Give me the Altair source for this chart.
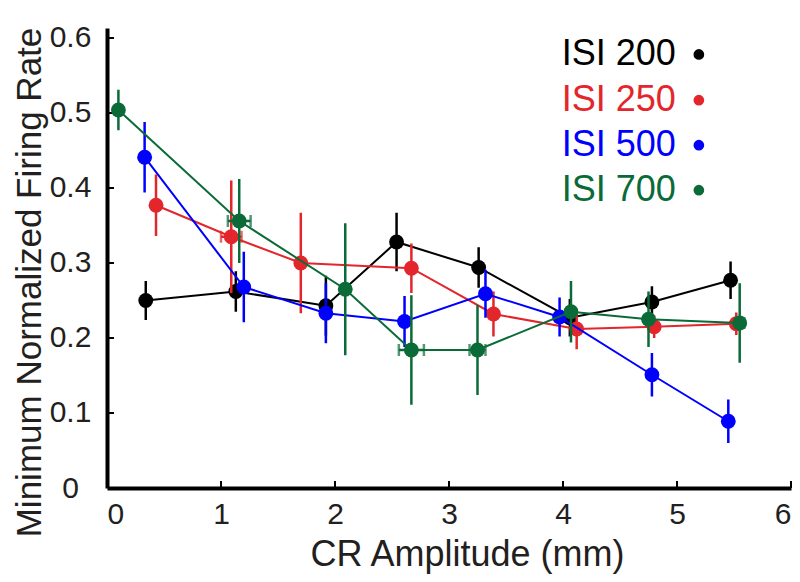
import altair as alt
import pandas as pd

series = ["ISI 200", "ISI 250", "ISI 500", "ISI 700"]
colors = ["#000000", "#e3262b", "#0000ff", "#0a6b38"]

x200 = [0.34, 1.13, 1.92, 2.54, 3.26, 4.06, 4.78, 5.47]
y200 = [0.250, 0.262, 0.243, 0.328, 0.294, 0.227, 0.248, 0.277]
e200 = [0.026, 0.027, 0.040, 0.039, 0.027, 0.025, 0.021, 0.025]
h200 = [0, 0, 0, 0, 0, 0, 0, 0]

x250 = [0.43, 1.09, 1.70, 2.67, 3.39, 4.12, 4.80, 5.52]
y250 = [0.377, 0.335, 0.300, 0.293, 0.232, 0.212, 0.215, 0.219]
e250 = [0.041, 0.075, 0.067, 0.033, 0.030, 0.027, 0.015, 0.015]
h250 = [0, 0.09, 0, 0, 0, 0, 0, 0.03]

x500 = [0.33, 1.20, 1.92, 2.61, 3.32, 3.97, 4.78, 5.45]
y500 = [0.441, 0.268, 0.233, 0.222, 0.259, 0.228, 0.151, 0.089]
e500 = [0.047, 0.047, 0.040, 0.034, 0.032, 0.026, 0.029, 0.029]
h500 = [0, 0, 0, 0, 0, 0, 0, 0]

x700 = [0.10, 1.16, 2.09, 2.67, 3.25, 4.07, 4.75, 5.55]
y700 = [0.504, 0.356, 0.265, 0.184, 0.184, 0.235, 0.225, 0.220]
e700 = [0.027, 0.056, 0.088, 0.073, 0.060, 0.041, 0.037, 0.053]
h700 = [0, 0.10, 0, 0.11, 0.07, 0, 0, 0.04]

xticks = [0, 1, 2, 3, 4, 5, 6]
yticks = [0, 0.1, 0.2, 0.3, 0.4, 0.5, 0.6]

legend_x = [4.99, 4.99, 4.99, 4.99]
legend_y = [0.578, 0.517, 0.457, 0.397]

W, H = 684, 460
xs = alt.Scale(domain=[0, 6.0], nice=False, zero=False)
ys = alt.Scale(domain=[0, 0.6133], nice=False, zero=False)

FONT = "Liberation Sans"
TXT = "#231f20"

xaxis = alt.Axis(values=xticks, format="d", ticks=False, domain=True, domainWidth=4,
                 domainColor="black",
                 labelFontSize=30, labelFont=FONT, labelColor=TXT, labelPadding=11,
                 title="CR Amplitude (mm)", titleFontSize=36, titleFont=FONT,
                 titleFontWeight="normal", titleColor=TXT,
                 titleBaseline="alphabetic", titleX=360, titleY=77, grid=False)
yaxis = alt.Axis(values=yticks, ticks=False, domain=True, domainWidth=4, domainColor="black",
                 labelFontSize=30, labelFont=FONT, labelColor=TXT, labelPadding=37,
                 labelAlign="center",
                 labelExpr="datum.value == 0 ? '0' : format(datum.value, '.1f')",
                 title="Minimum Normalized Firing Rate", titleFontSize=35, titleFont=FONT,
                 titleFontWeight="normal", titleColor=TXT, titleBaseline="alphabetic",
                 titleX=-67, titleY=254, grid=False)

data = {
    "ISI 200": (x200, y200, e200, h200),
    "ISI 250": (x250, y250, e250, h250),
    "ISI 500": (x500, y500, e500, h500),
    "ISI 700": (x700, y700, e700, h700),
}

layers = []
base_df = pd.DataFrame({"x": [0.0], "y": [0.0]})
axes_layer = alt.Chart(base_df).mark_point(opacity=0).encode(
    x=alt.X("x:Q", scale=xs, axis=xaxis),
    y=alt.Y("y:Q", scale=ys, axis=yaxis),
)
layers.append(axes_layer)

# inward ticks
ytick_df = pd.DataFrame({"y": yticks[1:]})
layers.append(alt.Chart(ytick_df).mark_rule(color="black", strokeWidth=2).encode(
    y=alt.Y("y:Q", scale=ys), x=alt.value(0), x2=alt.value(7)))
xtick_df = pd.DataFrame({"x": xticks[1:]})
layers.append(alt.Chart(xtick_df).mark_rule(color="black", strokeWidth=2).encode(
    x=alt.X("x:Q", scale=xs), y=alt.value(H), y2=alt.value(H - 7)))

for name, col in zip(series, colors):
    xv, yv, ev, hv = data[name]
    df = pd.DataFrame({"x": xv, "y": yv, "e": ev, "h": hv})
    df["ylo"] = df["y"] - df["e"]
    df["yhi"] = df["y"] + df["e"]
    df["xlo"] = df["x"] - df["h"]
    df["xhi"] = df["x"] + df["h"]
    c = alt.Chart(df)
    layers.append(c.mark_line(color=col, strokeWidth=2).encode(
        x=alt.X("x:Q", scale=xs), y=alt.Y("y:Q", scale=ys)))
    layers.append(c.mark_rule(color=col, strokeWidth=2.5).encode(
        x=alt.X("x:Q", scale=xs), y=alt.Y("ylo:Q", scale=ys), y2="yhi:Q"))
    hdf = c.transform_filter("datum.h > 0")
    layers.append(hdf.mark_rule(color=col, strokeWidth=2.5).encode(
        x=alt.X("xlo:Q", scale=xs), x2="xhi:Q", y=alt.Y("y:Q", scale=ys)))
    layers.append(hdf.mark_tick(color=col, thickness=2.5, size=12, orient="vertical").encode(
        x=alt.X("xlo:Q", scale=xs), y=alt.Y("y:Q", scale=ys)))
    layers.append(hdf.mark_tick(color=col, thickness=2.5, size=12, orient="vertical").encode(
        x=alt.X("xhi:Q", scale=xs), y=alt.Y("y:Q", scale=ys)))
    layers.append(c.mark_circle(color=col, size=220, opacity=1).encode(
        x=alt.X("x:Q", scale=xs), y=alt.Y("y:Q", scale=ys)))

leg_df = pd.DataFrame({"name": series, "color": colors, "lx": legend_x, "ly": legend_y})
leg = alt.Chart(leg_df)
layers.append(leg.mark_text(align="right", baseline="middle", fontSize=36, font=FONT).encode(
    x=alt.X("lx:Q", scale=xs), y=alt.Y("ly:Q", scale=ys), text="name:N",
    color=alt.Color("color:N", scale=None)))
layers.append(leg.mark_circle(size=115, opacity=1).encode(
    x=alt.X("lx:Q", scale=xs), y=alt.Y("ly:Q", scale=ys),
    color=alt.Color("color:N", scale=None), xOffset=alt.value(23)))

chart = alt.layer(*layers).properties(
    width=W, height=H,
    autosize=alt.AutoSizeParams(type="none"),
    padding={"left": 99, "top": 20, "right": 1, "bottom": 86},
    background="white",
).configure_view(stroke=None)

chart.save("out.html", embed_options={"renderer": "svg", "actions": False})
